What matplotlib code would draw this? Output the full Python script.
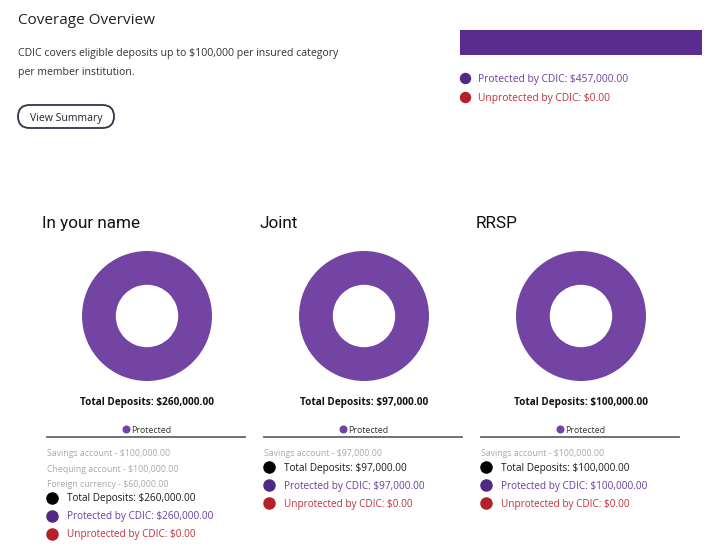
import matplotlib
matplotlib.use("Agg")
import matplotlib.pyplot as plt
from matplotlib.patches import FancyBboxPatch

plt.rcParams['font.family'] = ['Open Sans', 'DejaVu Sans']

# ---------------- data ----------------
overall_labels = ["Protected by CDIC", "Unprotected by CDIC"]
overall_values = [457000.00, 0.00]

categories = ["In your name", "Joint", "RRSP"]
totals = [260000.00, 97000.00, 100000.00]
protected = [260000.00, 97000.00, 100000.00]
unprotected = [0.00, 0.00, 0.00]
accounts = [
    [("Savings account", 100000.00), ("Chequing account", 100000.00), ("Foreign currency", 60000.00)],
    [("Savings account", 97000.00)],
    [("Savings account", 100000.00)],
]

title = "Coverage Overview"
desc_lines = ["CDIC covers eligible deposits up to $100,000 per insured category",
              "per member institution."]
button_text = "View Summary"

# ---------------- styles ----------------
W, H = 720, 553
C_BAR = "#5b2c8f"
C_DONUT = "#7444a5"
C_PURPLE_TXT = "#6b3fa0"
C_PURPLE_DOT = "#4e2a84"
C_RED_TXT = "#c0313a"
C_RED_DOT = "#b5202a"
C_GRAY_TXT = "#a8a8a8"
C_DARK = "#1a1a1a"
DY = 1.5  # small baseline correction for text

def money(v):
    return "${:,.2f}".format(v)

fig = plt.figure(figsize=(W / 100, H / 100), dpi=100)
fig.patch.set_facecolor("white")

bg = fig.add_axes([0, 0, 1, 1])
bg.set_xlim(0, W)
bg.set_ylim(H, 0)
bg.axis("off")

# Header
bg.text(18, 19 + DY, title, fontsize=11, color="#222222", va="center", ha="left")
for i, line in enumerate(desc_lines):
    bg.text(18, 52 + i * 19 + DY, line, fontsize=7.6, color="#333333", va="center", ha="left")

btn = FancyBboxPatch((18, 105), 96, 23, boxstyle="round,pad=0,rounding_size=11.5",
                     facecolor="white", edgecolor="#3b2f45", linewidth=1.3)
bg.add_patch(btn)
bg.text(66, 116.5 + DY, button_text, fontsize=7.6, color="#2a2030", ha="center", va="center")

# Overall stacked bar
bar_ax = fig.add_axes([460 / W, 1 - 55 / H, 242 / W, 25 / H])
total_all = sum(overall_values)
left = 0
for val, col in zip(overall_values, [C_BAR, C_RED_DOT]):
    bar_ax.barh([0], [val], left=left, color=col, height=1.0)
    left += val
bar_ax.set_xlim(0, total_all)
bar_ax.set_ylim(-0.5, 0.5)
bar_ax.axis("off")

for i, (lab, val, dcol, tcol) in enumerate(zip(overall_labels, overall_values,
                                               [C_PURPLE_DOT, C_RED_DOT],
                                               [C_PURPLE_TXT, C_RED_TXT])):
    y = 78 + i * 19
    bg.plot([465], [y], marker="o", markersize=7.2, color=dcol, linestyle="none")
    bg.text(478, y + DY, f"{lab}: {money(val)}", fontsize=7.4, color=tcol, va="center", ha="left")

# Category sections
centers = [147, 364, 581]
cy = 316
R = 65
for k, cat in enumerate(categories):
    cx = centers[k]
    bg.text(cx - 105, 222 + DY, cat, fontsize=12.3, color="#111111", va="center", ha="left",
            family=["Roboto", "DejaVu Sans"])

    pax = fig.add_axes([(cx - R) / W, 1 - (cy + R) / H, 2 * R / W, 2 * R / H])
    vals = [protected[k], unprotected[k]]
    pax.pie(vals, colors=[C_DONUT, C_RED_DOT], startangle=90, counterclock=False,
            wedgeprops=dict(width=0.52, linewidth=0))
    pax.set_xlim(-1, 1)
    pax.set_ylim(-1, 1)
    pax.set_aspect("auto")
    pax.axis("off")

    bg.text(cx, 401 + DY, f"Total Deposits: {money(totals[k])}", fontsize=7.2,
            fontweight="bold", color="#111111", ha="center", va="center")

    # small legend
    bg.plot([cx - 21], [429], marker="o", markersize=4.8, color=C_DONUT, linestyle="none")
    bg.text(cx - 16, 429 + DY, "Protected", fontsize=6.3, color="#333333", ha="left", va="center")
    bg.plot([cx - 100, cx + 98], [437, 437], color="#666666", linewidth=1.3)

    x0 = cx - 100
    y = 452
    for name, v in accounts[k]:
        bg.text(x0, y + DY, f"{name} - {money(v)}", fontsize=6.3, color=C_GRAY_TXT,
                ha="left", va="center")
        y += 15.5
    y -= 1
    rows = [(f"Total Deposits: {money(totals[k])}", "black", C_DARK),
            (f"Protected by CDIC: {money(protected[k])}", C_PURPLE_DOT, C_PURPLE_TXT),
            (f"Unprotected by CDIC: {money(unprotected[k])}", C_RED_DOT, C_RED_TXT)]
    for txt, dcol, tcol in rows:
        bg.plot([x0 + 5], [y], marker="o", markersize=8, color=dcol, linestyle="none")
        bg.text(x0 + 20, y + DY, txt, fontsize=7.2, color=tcol, ha="left", va="center")
        y += 18

fig.savefig("out.png", dpi=100, facecolor="white")
